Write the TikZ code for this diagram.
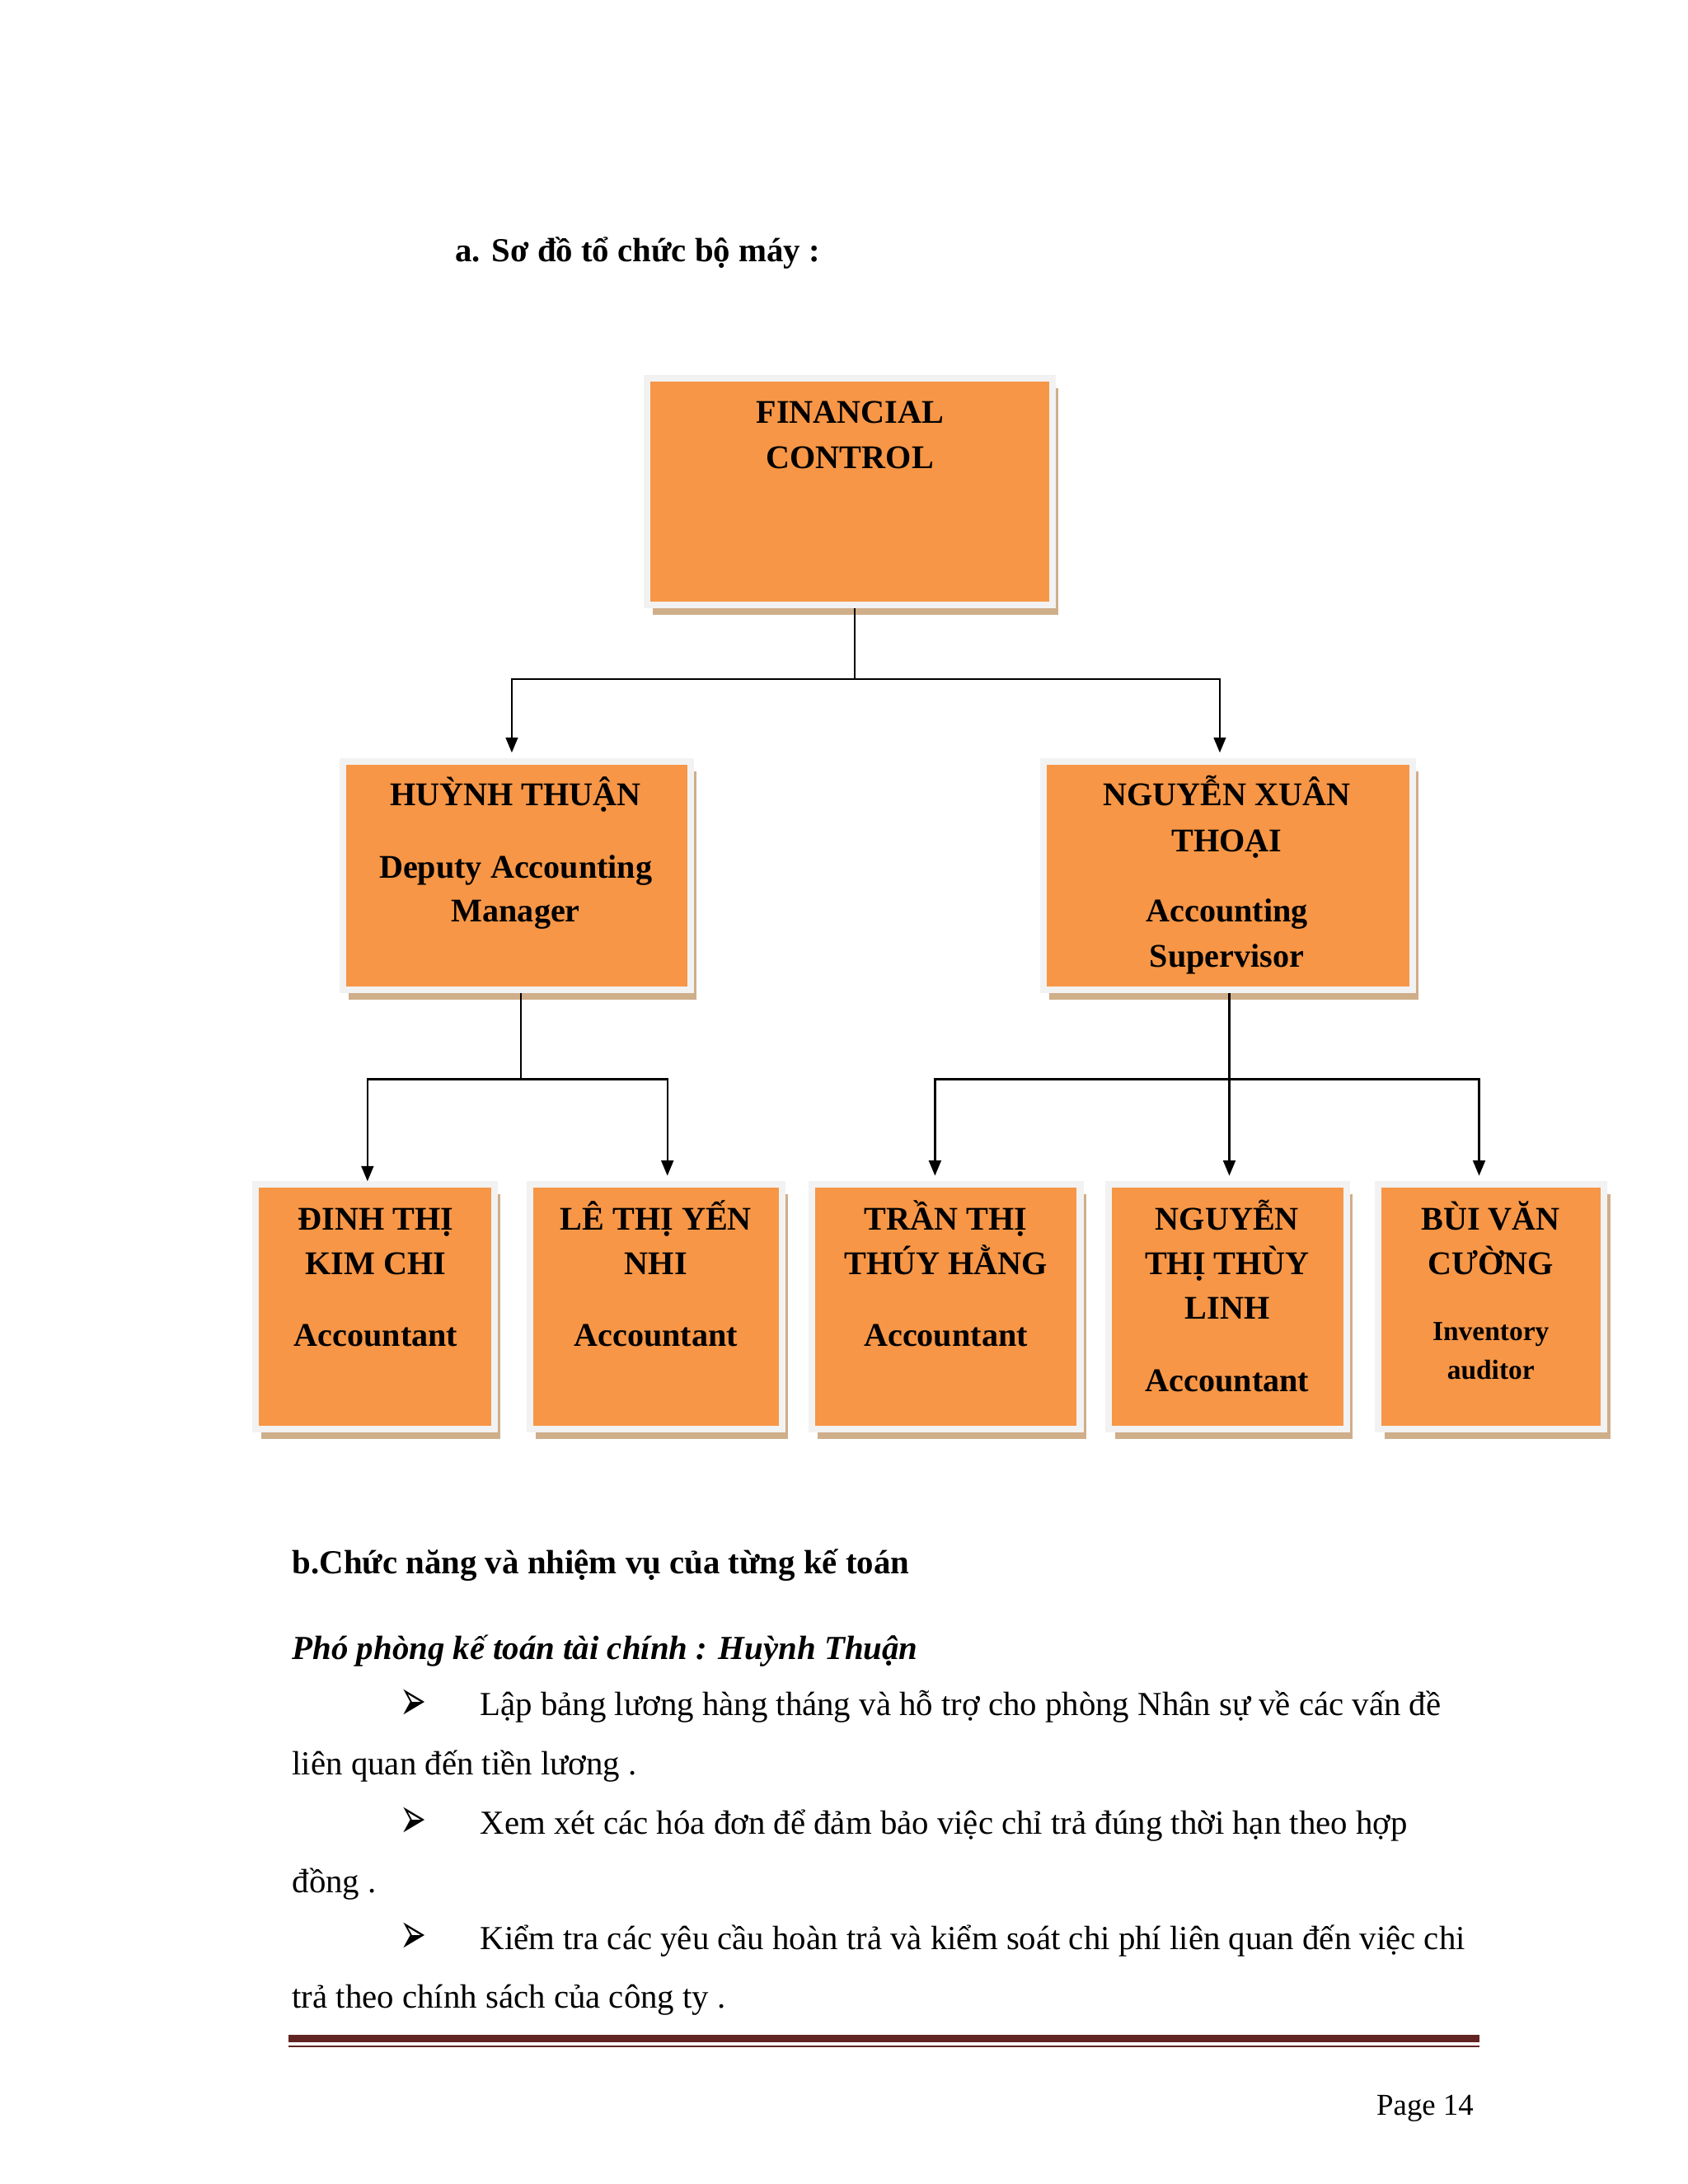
\documentclass[tikz,border=0pt]{standalone}
\usepackage{fontspec}
\setmainfont{Liberation Serif}
\newfontfamily\dejavu{DejaVu Sans}
\usetikzlibrary{fit,shadows,arrows.meta}
\definecolor{boxorange}{HTML}{F79646}
\definecolor{boxframe}{HTML}{F2F2F2}
\definecolor{boxshadow}{HTML}{CFAE8A}
\definecolor{rulered}{HTML}{622423}
\begin{document}
\begin{tikzpicture}[x=0.5056pt,y=-0.5056pt,
  orgbox/.style={fill=boxorange, draw=boxframe, line width=2.4pt, inner sep=-1.2pt,
    drop shadow={shadow xshift=2.2pt, shadow yshift=-3.6pt, fill=boxshadow, opacity=1}},
  nm/.style={font=\bfseries\fontsize{12}{14}\selectfont, anchor=base, inner sep=0pt},
  nmsmall/.style={font=\bfseries\fontsize{10}{12}\selectfont, anchor=base, inner sep=0pt},
  body/.style={font=\fontsize{12.2}{14}\selectfont, anchor=base west, inner sep=0pt},
  hd/.style={font=\bfseries\fontsize{12.2}{14}\selectfont, anchor=base west, inner sep=0pt},
  hdit/.style={font=\bfseries\itshape\fontsize{12.2}{14}\selectfont, anchor=base west, inner sep=0pt},
  bul/.style={font=\dejavu\bfseries\fontsize{12}{14}\selectfont, anchor=base west, inner sep=0pt},
  conn/.style={draw=black, line width=0.7pt},
  arr/.style={conn, -{Triangle[length=5.5pt,width=4.4pt]}}
]
\fill[white] (0,0) rectangle (1210.4,1566.2);
\useasboundingbox (0,0) rectangle (1210.4,1566.2);

% heading
\node[hd] (ha) at (326,187.5) {a. Sơ đồ tổ chức bộ máy :};

% boxes
\node[orgbox, fit={(461.6,268.9) (756.9,436.2)}] (fc) {};
\node[orgbox, fit={(243.3,543.7) (497.4,712)}] (ht) {};
\node[orgbox, fit={(745.9,543.7) (1015.3,712)}] (nx) {};
\node[orgbox, fit={(180.9,847.1) (356.8,1027.3)}] (b1) {};
\node[orgbox, fit={(377.5,847.1) (563,1027.3)}] (b2) {};
\node[orgbox, fit={(579.8,847.1) (776.9,1027.3)}] (b3) {};
\node[orgbox, fit={(792.8,847.1) (968,1027.3)}] (b4) {};
\node[orgbox, fit={(985.9,847.1) (1152.7,1027.3)}] (b5) {};

% box texts
\node[nm] (fc1) at (609.5,303.4) {FINANCIAL};
\node[nm] (fc2) at (609.5,335.9) {CONTROL};

\node[nm] (ht1) at (369.8,578) {HUỲNH THUẬN};
\node[nm] (ht2) at (369.8,629.5) {Deputy Accounting};
\node[nm] (ht3) at (369.8,661) {Manager};

\node[nm] (nx1) at (879.8,578) {NGUYỄN XUÂN};
\node[nm] (nx2) at (879.8,610.7) {THOẠI};
\node[nm] (nx3) at (879.8,661) {Accounting};
\node[nm] (nx4) at (879.8,693.4) {Supervisor};

\node[nm] (b1a) at (269.5,882.2) {ĐINH THỊ};
\node[nm] (b1b) at (269.5,914) {KIM CHI};
\node[nm] (b1c) at (269.5,965.3) {Accountant};

\node[nm] (b2a) at (470.3,882.2) {LÊ THỊ YẾN};
\node[nm] (b2b) at (470.3,914) {NHI};
\node[nm] (b2c) at (470.3,965.3) {Accountant};

\node[nm] (b3a) at (678.2,882.2) {TRẦN THỊ};
\node[nm] (b3b) at (678.2,914) {THÚY HẰNG};
\node[nm] (b3c) at (678.2,965.3) {Accountant};

\node[nm] (b4a) at (880,882.2) {NGUYỄN};
\node[nm] (b4b) at (880,914) {THỊ THÙY};
\node[nm] (b4c) at (880,945.8) {LINH};
\node[nm] (b4d) at (880,997.9) {Accountant};

\node[nm] (b5a) at (1069,882.2) {BÙI VĂN};
\node[nm] (b5b) at (1069,914) {CƯỜNG};
\node[nmsmall] (b5c) at (1069,961.4) {Inventory};
\node[nmsmall] (b5d) at (1069,989) {auditor};

% connectors
\coordinate (j1) at (612.9,487);
\draw[conn] (j1 |- fc.south) -- (j1);
\draw[arr, shorten >=2pt] (j1) -| ([xshift=-1.7pt]ht.north);
\draw[arr, shorten >=2pt] (j1) -| ([xshift=-3pt]nx.north);

\coordinate (j2) at (373.7,774);
\draw[conn] (j2 |- ht.south) -- (j2);
\draw[arr] (j2) -| ([xshift=-2.7pt]b1.north);
\draw[arr, shorten >=2pt] (j2) -| ([xshift=4.2pt]b2.north);

\coordinate (j3) at (881.5,774);
\draw[arr, shorten >=2pt] (j3 |- nx.south) -- (j3 |- b4.north);
\draw[arr, shorten >=2pt] (j3) -| ([xshift=-4pt]b3.north);
\draw[arr, shorten >=2pt] (j3) -| ([xshift=-4.4pt]b5.north);

% section b
\node[hd] (hb) at (209.2,1128.8) {b.Chức năng và nhiệm vụ của từng kế toán};
\node[hdit] (hp) at (209.2,1189.9) {Phó phòng kế toán tài chính : Huỳnh Thuận};

\node[bul] (u1) at (286.5,1233.5) {\scalebox{0.95}[1.75]{➢}};
\node[body] (l1) at (344,1230.3) {Lập bảng lương hàng tháng và hỗ trợ cho phòng Nhân sự về các vấn đề};
\node[body] (l2) at (209.2,1272.5) {liên quan đến tiền lương .};
\node[bul] (u2) at (286.5,1318.2) {\scalebox{0.95}[1.75]{➢}};
\node[body] (l3) at (344,1315) {Xem xét các hóa đơn để đảm bảo việc chỉ trả đúng thời hạn theo hợp};
\node[body] (l4) at (209.2,1357) {đồng .};
\node[bul] (u3) at (286.5,1401.2) {\scalebox{0.95}[1.75]{➢}};
\node[body] (l5) at (344,1398) {Kiểm tra các yêu cầu hoàn trả và kiểm soát chi phí liên quan đến việc chi};
\node[body] (l6) at (209.2,1440) {trả theo chính sách của công ty .};

% footer
\coordinate (ra) at (206.9,1462);
\coordinate (rb) at (1061,1462);
\coordinate (rc) at (206.9,1467.5);
\coordinate (rd) at (1061,1467.5);
\draw[rulered, line width=2.7pt] (ra) -- (rb);
\draw[rulered, line width=0.7pt] (rc) -- (rd);
\node[font=\fontsize{11}{13}\selectfont, anchor=base east, inner sep=0pt] (pg) at (1057,1517) {Page 14};
\end{tikzpicture}
\end{document}
